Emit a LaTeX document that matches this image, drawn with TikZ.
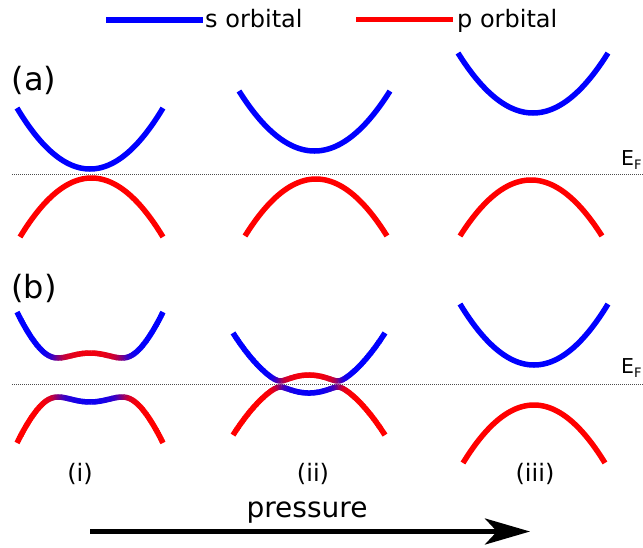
\documentclass[tikz,border=0pt]{standalone}
\usepackage{fontspec}
\setmainfont{DejaVu Sans}
\usetikzlibrary{arrows.meta}
\tikzset{
  band/.style={line width=5.5pt, line cap=butt},
  fermi/.style={line width=0.8pt, black!70, dash pattern=on 1.2pt off 0.8pt},
  panel/.style={inner sep=0pt, font=\fontsize{32}{32}\selectfont},
  case/.style={inner sep=0pt, font=\fontsize{24}{24}\selectfont},
  legtext/.style={inner sep=0pt, anchor=base west, font=\fontsize{24}{24}\selectfont},
  eflabel/.style={inner sep=0pt, anchor=base west, font=\fontsize{20.5}{20.5}\selectfont},
}
% parabola: colour, centre x, half width, vertex y, end y
\newcommand\parab[5]{%
  \draw[band,#1] plot[domain=-1:1,samples=61,smooth] ({#2+#3*\x},{#4+(#5-#4)*(\x)*(\x)});
}
% hybridised band: cx, hw, mean, d0, c, V, sign(-1 upper, +1 lower), colour width
\newcommand\hybband[8]{%
  \foreach \i in {0,...,119}{%
    \pgfmathsetmacro\ua{-#2+#2*\i/60}%
    \pgfmathsetmacro\ub{min(-#2+#2*(\i+1.4)/60,#2)}%
    \pgfmathsetmacro\um{(\ua+\ub)/2}%
    \pgfmathsetmacro\da{#4-#5*(\ua)*(\ua)}%
    \pgfmathsetmacro\db{#4-#5*(\ub)*(\ub)}%
    \pgfmathsetmacro\dm{#4-#5*(\um)*(\um)}%
    \pgfmathsetmacro\ya{#3+(#7)*sqrt((\da)*(\da)+#6*#6)}%
    \pgfmathsetmacro\yb{#3+(#7)*sqrt((\db)*(\db)+#6*#6)}%
    \pgfmathsetmacro\w{(1+(#7)*(\dm)/sqrt((\dm)*(\dm)+#8*#8))/2}%
    \pgfmathtruncatemacro\pc{round(100*\w*\w/(\w*\w+(1-\w)*(1-\w)))}%
    \draw[band,blue!\pc!red] ({#1+\ua},\ya) -- ({#1+\ub},\yb);
  }%
}
\begin{document}
\begin{tikzpicture}[x=1pt,y=-1pt]
\useasboundingbox (0,0) rectangle (643,547);
% legend
\coordinate (sa) at (106,20); \coordinate (sb) at (203,20);
\coordinate (pa) at (356,19); \coordinate (pb) at (453,19);
\draw[blue, line width=6pt] (sa) -- (sb);
\draw[red, line width=5pt] (pa) -- (pb);
\node[legtext] (stxt) at (205,27) {s orbital};
\node[legtext] (ptxt) at (457,27) {p orbital};
% panel labels
\node[panel] (la) at (34,80) {(a)};
\node[panel] (lb) at (34,288) {(b)};
% Fermi levels
\coordinate (efa1) at (12,174); \coordinate (efa2) at (643,174);
\coordinate (efb1) at (12,384); \coordinate (efb2) at (643,384);
\draw[fermi] (efa1) -- (efa2);
\draw[fermi] (efb1) -- (efb2);
\node[eflabel] (efa) at (621,165) {E\raisebox{-4pt}{\fontsize{13}{13}\selectfont F}};
\node[eflabel] (efb) at (621,373) {E\raisebox{-4pt}{\fontsize{13}{13}\selectfont F}};
% panel (a)
\parab{blue}{90}{73}{169}{108}
\parab{red}{91.5}{71.5}{178}{237}
\parab{blue}{314.5}{75.5}{151}{91}
\parab{red}{316}{71}{179}{236}
\parab{blue}{533}{75}{113}{53}
\parab{red}{531}{71}{180}{236}
% panel (b)
\hybband{90}{73}{377.5}{14.8}{0.0145}{19.5}{-1}{19.5}
\hybband{90}{73}{377.5}{14.8}{0.0145}{19.5}{1}{19.5}
\hybband{309}{76}{384}{8.5}{0.0103}{3}{-1}{9}
\hybband{309}{76}{384}{8.5}{0.0103}{3}{1}{9}
\parab{blue}{534}{74}{365}{304}
\parab{red}{534}{71}{405}{463}
% case labels
\node[case] (ci) at (80,474) {(i)};
\node[case] (cii) at (313,474) {(ii)};
\node[case] (ciii) at (535,474) {(iii)};
% pressure arrow
\node[inner sep=0pt, anchor=base, font=\fontsize{28}{28}\selectfont] (press) at (307,517) {pressure};
\coordinate (arra) at (90,531.5); \coordinate (arrb) at (530,531.5);
\draw[line width=5pt, -{Stealth[length=45pt, width=26pt, inset=12pt]}] (arra) -- (arrb);
\end{tikzpicture}
\end{document}
